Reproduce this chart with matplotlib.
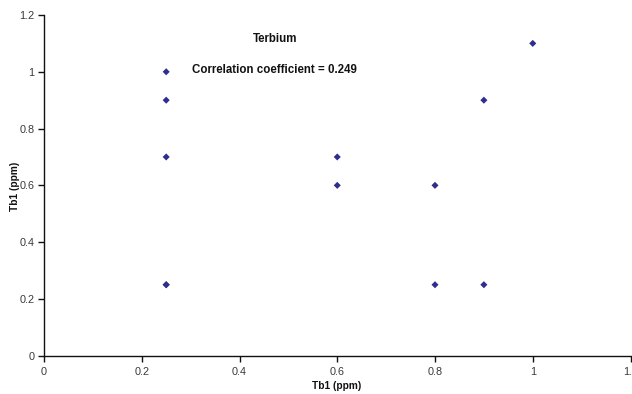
import matplotlib
matplotlib.use("Agg")
import matplotlib.pyplot as plt

plt.rcParams['font.family'] = ['Liberation Sans', 'DejaVu Sans']

# Terbium measurements
tb_x = [0.25, 0.25, 0.25, 0.25, 0.25, 0.6, 0.6, 0.8, 0.8, 0.9, 0.9, 1.0]
tb_y = [1.0, 0.9, 0.7, 0.25, 0.25, 0.7, 0.6, 0.6, 0.25, 0.9, 0.25, 1.1]

tick_values = [0, 0.2, 0.4, 0.6, 0.8, 1.0, 1.2]
tick_labels = ['0', '0.2', '0.4', '0.6', '0.8', '1', '1.2']

title_text = 'Terbium'
corr_text = 'Correlation coefficient = 0.249'
axis_label = 'Tb1 (ppm)'

fig = plt.figure(figsize=(6.32, 3.94), dpi=100)
ax = fig.add_axes([44 / 632, 1 - 355.7 / 394, (630.5 - 44) / 632, (355.7 - 15) / 394])

ax.scatter(tb_x, tb_y, marker='D', s=13, color='#2e2e8f', edgecolors='none', zorder=3, clip_on=False)

ax.set_xlim(0, 1.2)
ax.set_ylim(0, 1.2)
ax.set_xticks(tick_values)
ax.set_xticklabels(tick_labels)
ax.set_yticks(tick_values)
ax.set_yticklabels(tick_labels)

for side in ('top', 'right'):
    ax.spines[side].set_visible(False)
for side in ('left', 'bottom'):
    ax.spines[side].set_linewidth(1.0)
    ax.spines[side].set_color('#111111')

ax.tick_params(axis='both', direction='out', length=4, width=1.0, color='#111111',
               labelsize=7.8, labelcolor='#3a3a3a', pad=3)
ax.tick_params(axis='x', pad=4)

ax.text(0.473, 1.115, title_text, ha='center', va='center', fontsize=8.3,
        fontweight='bold', color='#111111')
ax.text(0.472, 1.008, corr_text, ha='center', va='center', fontsize=8.3,
        fontweight='bold', color='#111111')

fig.text(337 / 632, 1 - 386 / 394, axis_label, ha='center', va='center',
         fontsize=7.3, fontweight='bold', color='#111111')
fig.text(15 / 632, 1 - 186 / 394, axis_label, ha='center', va='center',
         rotation=90, fontsize=7.3, fontweight='bold', color='#111111')

fig.savefig('out.png', dpi=100)
